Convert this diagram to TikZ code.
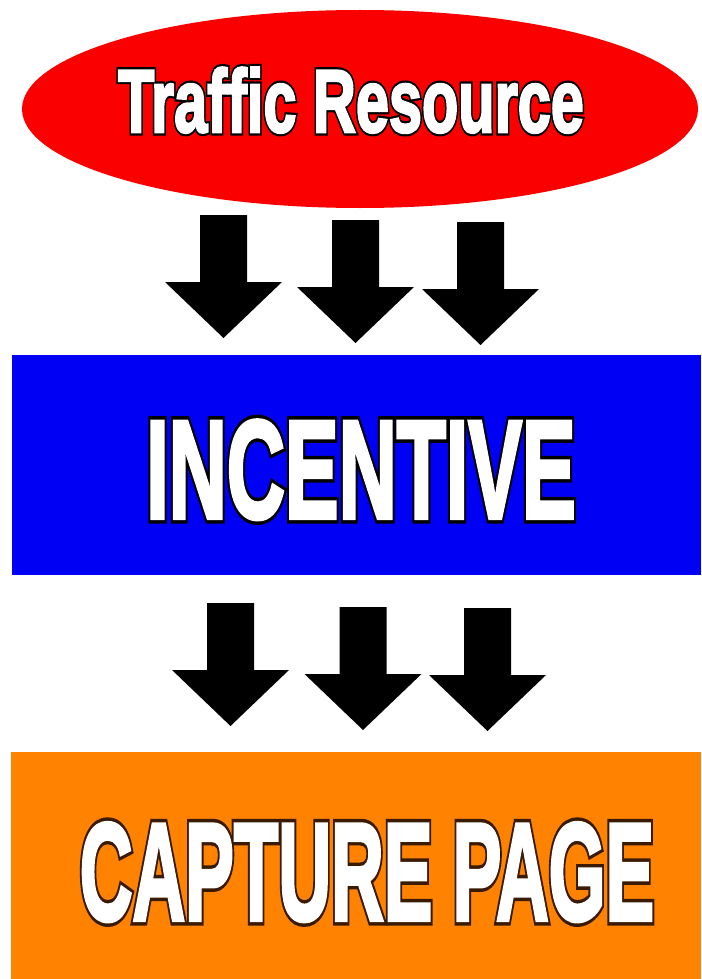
\documentclass[tikz,border=0pt]{standalone}
\usepackage{fontspec}
\usepackage{tikz}
\usetikzlibrary{shapes.geometric}
\newfontfamily\posterfont{Liberation Sans Bold}[FakeBold=3]
\newfontfamily\rimfont{Liberation Sans Bold}[FakeBold=8]
\definecolor{srcRed}{HTML}{FA0000}
\definecolor{incBlue}{HTML}{0000F5}
\definecolor{capOrange}{HTML}{FF8200}
\definecolor{capShadow}{HTML}{3A1A00}
\tikzset{
  shapebox/.style={draw=none,inner sep=0pt,outer sep=0pt},
  postertext/.style={anchor=base,inner sep=0pt,text=white},
}
% white poster lettering on a dark rim
\newcommand{\rimlabel}[6]{%
  \node[postertext,text=#5] (#1rim) at (#2)
    {\rimfont\fontsize{#3}{#3}\selectfont\scalebox{#4}[1]{#6}};
  \node[postertext] (#1) at (#2)
    {\posterfont\fontsize{#3}{#3}\selectfont\scalebox{#4}[1]{#6}};
}
% thick block arrow, top centre at (#1,#2)
\newcommand{\blockarrow}[2]{%
  \fill[black] (#1-23.5,#2) -- (#1+23.5,#2) -- (#1+23.5,#2+67) -- (#1+58.5,#2+67)
    -- (#1,#2+123) -- (#1-58.5,#2+67) -- (#1-23.5,#2+67) -- cycle;
}

\begin{document}
\begin{tikzpicture}[x=1pt,y=-1pt]
\useasboundingbox[fill=white] (0,0) rectangle (701,979);
\node[shapebox,ellipse,fill=srcRed,minimum width=676pt,minimum height=198pt] (traffic) at (360,109) {};
\node[shapebox,rectangle,fill=incBlue,minimum width=689pt,minimum height=220pt] (incentive) at (356.5,465) {};
\node[shapebox,rectangle,fill=capOrange,minimum width=690pt,minimum height=227pt] (capture) at (356,865.5) {};
\rimlabel{trafficlabel}{351,132}{89}{0.668}{black}{Traffic Resource}
\rimlabel{incentivelabel}{361,518}{140}{0.575}{black}{INCENTIVE}
\rimlabel{capturelabel}{367,920}{139}{0.525}{capShadow}{CAPTURE PAGE}
\blockarrow{223.5}{215} \blockarrow{355.5}{220} \blockarrow{480.5}{222}
\blockarrow{230.5}{603} \blockarrow{363}{607} \blockarrow{487.5}{608}
\end{tikzpicture}
\end{document}
